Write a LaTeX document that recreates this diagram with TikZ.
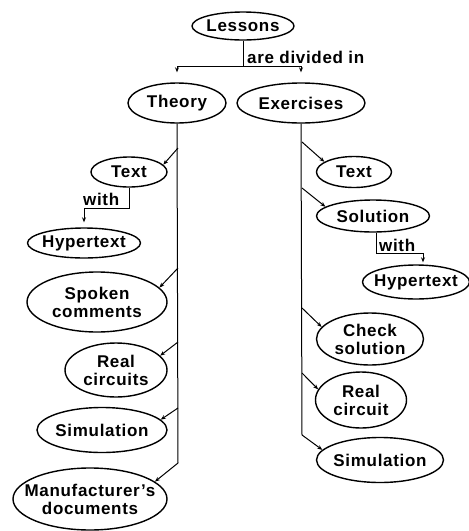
\documentclass[tikz,border=0pt]{standalone}
\usepackage{fontspec}
\setmainfont{Liberation Sans}[LetterSpace=4]
\usetikzlibrary{shapes.geometric,arrows.meta}
\newcommand{\ellnode}[6]{\node[ell,minimum width=#4pt,minimum height=#5pt,label={[txt]center:#6}] (#1) at (#2,#3) {};}
\begin{document}
\begin{tikzpicture}[x=1pt,y=-1pt,
  ell/.style={ellipse,draw,line width=1.4pt,inner sep=0pt},
  txt/.style={font=\fontsize{17}{18}\selectfont\bfseries,align=center,inner sep=0pt},
  conn/.style={line width=1pt},
  arr/.style={conn,-{Stealth[length=5pt,width=4pt]}}]
\useasboundingbox (0,0) rectangle (469,531);
% nodes
\ellnode{L}{243}{26}{102}{28}{Lessons}
\ellnode{T}{177}{103}{98}{40}{Theory}
\ellnode{E}{301}{103}{128}{40}{Exercises}
\ellnode{TL}{129}{172}{76}{30}{Text}
\ellnode{HL}{84}{243}{113}{30}{Hypertext}
\ellnode{SC}{97}{302}{140}{60}{Spoken\\comments}
\ellnode{RC}{116}{370}{102}{54}{Real\\circuits}
\ellnode{SL}{102}{430}{130}{45}{Simulation}
\ellnode{MD}{90}{499}{154}{62}{Manufacturer's\\documents}
\ellnode{TR}{354}{172}{75}{31}{Text}
\ellnode{SO}{373}{216}{113}{32}{Solution}
\ellnode{HR}{416}{282}{107}{34}{Hypertext}
\ellnode{CS}{370}{339}{107}{52}{Check\\solution}
\ellnode{RR}{361}{400}{91}{56}{Real\\circuit}
\ellnode{SR}{380}{460}{127}{45}{Simulation}
% labels
\node[txt,anchor=base west] (adi) at (247,63) {are divided in};
\node[txt,anchor=base west] (wl) at (83,205) {with};
\node[txt,anchor=base west] (wr) at (379,251) {with};
% top split
\coordinate (j) at (243,66);
\draw[conn] (L.south) -- (j);
\draw[arr,shorten >=10pt] (j) -| (T.north);
\draw[arr,shorten >=10pt] (j) -| (E.north);
% left trunk
\coordinate (lt) at (178,463);
\coordinate (b1) at (178,148);
\coordinate (b2) at (178,268);
\coordinate (b3) at (178,342);
\coordinate (b4) at (178,408);
\draw[conn] (T.south) -- (lt);
\draw[arr] (lt) -- (MD.15);
\draw[arr] (b1) -- (TL.12);
\draw[arr] (b2) -- (SC.13);
\draw[arr] (b3) -- (RC.18);
\draw[arr] (b4) -- (SL.10);
% right trunk
\coordinate (rt) at (302,435);
\coordinate (c1) at (302,142);
\coordinate (c2) at (302,188);
\coordinate (c3) at (302,308);
\coordinate (c4) at (302,373);
\draw[conn] (E.south) -- (rt);
\draw[arr] (rt) -- (SR.170);
\draw[arr] (c1) -- (TR.161);
\draw[arr] (c2) -- (SO.169);
\draw[arr] (c3) -- (CS.166);
\draw[arr] (c4) -- (RR.166);
% with connectors
\coordinate (w1) at (84,208);
\draw[arr,shorten >=5pt] (TL.south) |- (w1) -- (HL.north);
\coordinate (w2) at (423,253);
\draw[arr,shorten >=2pt] ([xshift=3pt]SO.south) |- (w2) -- (HR.north -| w2);
\end{tikzpicture}
\end{document}
